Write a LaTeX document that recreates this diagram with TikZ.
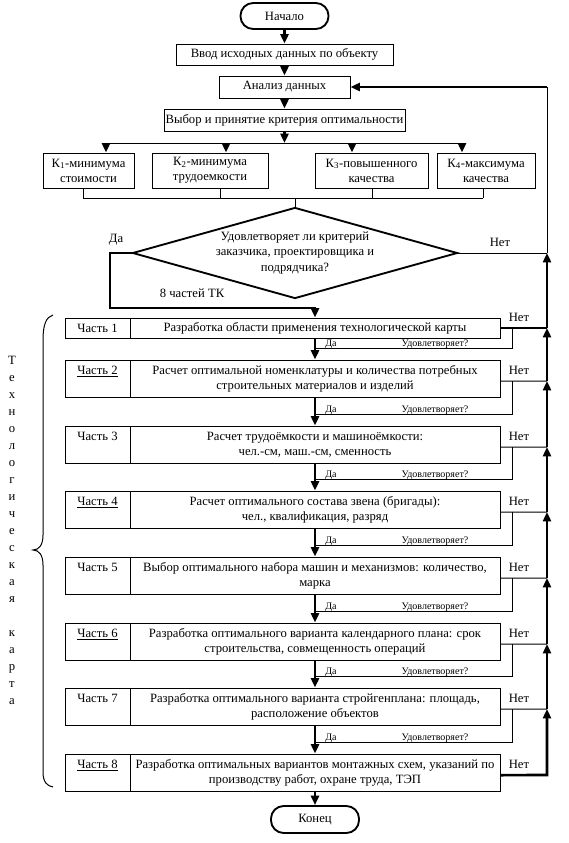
\documentclass[tikz,border=0pt]{standalone}
\usepackage{fontspec}
\setmainfont{Liberation Serif}
\usetikzlibrary{arrows.meta,shapes.geometric}
\newcommand\pxu{0.75pt}
\newcommand\fs{\fontsize{9.5}{11.3}\selectfont}
\newcommand\fsm{\fontsize{7.5}{9}\selectfont}
\tikzset{
  boxbase/.style={draw, line width=0.75pt, inner sep=0pt, align=center, font=\fs},
  term/.style={boxbase, rounded corners=9.5pt, line width=1.4pt},
  decbox/.style={boxbase, diamond, line width=1.4pt},
  txt/.style={inner sep=0pt, font=\fs, align=center},
  smalltxt/.style={inner sep=0pt, font=\fsm},
  thinline/.style={line width=0.75pt},
  thickline/.style={line width=2pt},
  arr/.style={thickline, -{Triangle[length=7pt,width=6pt]}},
}
\newcommand\rbox[7]{\node[#1, minimum width={(#5-#3)*\pxu}, minimum height={(#6-#4)*\pxu}] (#2) at ({(#3+#5)/2},{(#4+#6)/2}) {#7};}
\newcommand\partrow[5]{%
  \node[boxbase, minimum width={65*\pxu}, minimum height={(#3-#2)*\pxu}] (l#1) at (97.5,{(#2+#3)/2}) {};
  \node[boxbase, minimum width={370*\pxu}, minimum height={(#3-#2)*\pxu}] (p#1) at (315,{(#2+#3)/2}) {#5};
  \node[txt, anchor=north] (lab#1) at ([yshift=-4.5pt]l#1.north) {#4};
}
% #1 index, #2 y of Net line, #3 y of loop line
\newcommand\netrow[3]{%
  \coordinate (j#1) at (547,#2);
  \coordinate (m#1) at (512,#2);
  \coordinate (a#1) at (315,#3);
  \draw[thinline] ([yshift=-2pt]p#1.east) -- (j#1);
  \draw[thinline] (m#1) |- (a#1);
  \node[txt, anchor=base] (net#1) at (519,{#2-7}) {Нет};
  \node[smalltxt, anchor=base west] (da#1) at (325,{#3-2}) {Да};
  \node[smalltxt, anchor=base] (ud#1) at (435,{#3-2}) {Удовлетворяет?};
}
\begin{document}
\begin{tikzpicture}[x=0.75pt,y=-0.75pt]
\useasboundingbox (0,0) rectangle (568,843);

% top chain
\rbox{term}{start}{240.5}{3}{328.5}{29}{Начало}
\rbox{boxbase}{vvod}{176}{44}{393}{65}{Ввод исходных данных по объекту}
\rbox{boxbase}{anal}{219}{76}{350}{98}{Анализ данных}
\rbox{boxbase}{vyb}{164}{109}{405}{131}{Выбор и принятие критерия оптимальности}
\draw[arr] (start) -- (vvod);
\draw[arr] (vvod) -- (anal);
\draw[arr] (anal) -- (vyb);

% distribution to criteria
\coordinate (dm) at (284.5,143);
\coordinate (d1) at (106,143);
\coordinate (d2) at (226,143);
\coordinate (d3) at (352,143);
\coordinate (d4) at (462,143);
\draw[arr] (vyb) -- (dm);
\draw[thinline] (d1) -- (d4);
\rbox{boxbase}{k1}{43}{153}{134}{188}{К\textsubscript{1}-минимума\\стоимости}
\rbox{boxbase}{k2}{152}{153}{268}{188}{К\textsubscript{2}-минимума\\трудоемкости}
\rbox{boxbase}{k3}{315}{153}{428}{188}{К\textsubscript{3}-повышенного\\качества}
\rbox{boxbase}{k4}{437}{153}{535}{188}{К\textsubscript{4}-максимума\\качества}
\draw[arr] (d1) -- (d1 |- k1.north);
\draw[arr] (d2) -- (d2 |- k2.north);
\draw[arr] (d3) -- (d3 |- k3.north);
\draw[arr] (d4) -- (d4 |- k4.north);

% collector
\coordinate (c1) at (83,198);
\coordinate (c2) at (220,198);
\coordinate (c3) at (372,198);
\coordinate (c4) at (483,198);
\coordinate (cm) at (295,198);
\draw[thinline] (c1) -- (c4);
\draw[thinline] (c1 |- k1.south) -- (c1);
\draw[thinline] (c2 |- k2.south) -- (c2);
\draw[thinline] (c3 |- k3.south) -- (c3);
\draw[thinline] (c4 |- k4.south) -- (c4);

% decision
\node[decbox, minimum width={325*\pxu}, minimum height={91*\pxu}, shape aspect=3.57] (dec) at (295,253)
  {Удовлетворяет ли критерий\\заказчика, проектировщика и\\подрядчика?};
\draw[thinline] (cm) -- (dec.north);

% parts
\node[boxbase, minimum width={65*\pxu}, minimum height={20*\pxu}] (l1) at (97.5,328) {};
\node[boxbase, minimum width={370*\pxu}, minimum height={20*\pxu}] (p1) at (315,328)
  {Разработка области применения технологической карты};
\node[txt] (lab1) at (l1) {Часть 1};
\partrow{2}{360}{397}{\underline{Часть 2}}{Расчет оптимальной номенклатуры и количества потребных\\строительных материалов и изделий}
\partrow{3}{426}{463}{Часть 3}{Расчет трудоёмкости и машиноёмкости:\\чел.-см, маш.-см, сменность}
\partrow{4}{491}{528}{\underline{Часть 4}}{Расчет оптимального состава звена (бригады):\\чел., квалификация, разряд}
\partrow{5}{557}{594}{Часть 5}{Выбор оптимального набора машин и механизмов: количество,\\марка}
\partrow{6}{623}{660}{\underline{Часть 6}}{Разработка оптимального варианта календарного плана: срок\\строительства, совмещенность операций}
\partrow{7}{688}{725}{Часть 7}{Разработка оптимального варианта стройгенплана: площадь,\\расположение объектов}
\partrow{8}{754}{791}{\underline{Часть 8}}{Разработка оптимальных вариантов монтажных схем, указаний по\\производству работ, охране труда, ТЭП}
\rbox{term}{end}{271}{806}{359}{833}{Конец}

% Yes path from decision
\coordinate (ya) at (110,253);
\coordinate (yb) at (110,308);
\draw[arr] (dec.west) -- (ya) -- (yb) -- (yb -| p1.north) -- (p1.north);
\node[txt] (dalbl) at (116,240) {Да};
\node[txt] (tk) at (192,293) {8 частей ТК};

% No path from decision and feedback
\coordinate (j0) at (547,253);
\coordinate (jt) at (547,87);
\draw[thinline] (dec.east) -- (j0);
\node[txt] (net0) at (500,242) {Нет};
\draw[thinline] (j0) -- (jt);
\draw[arr] (jt) -- (anal.east);

% part 1 feedback
\coordinate (j1) at (547,328);
\coordinate (m1) at (512,328);
\coordinate (a1) at (315,348);
\draw[thickline] (p1.east) -- (j1);
\draw[thinline] (m1) |- (a1);
\node[txt, anchor=base] (net1) at (519,321) {Нет};
\node[smalltxt, anchor=base west] (da1) at (325,346) {Да};
\node[smalltxt, anchor=base] (ud1) at (435,346) {Удовлетворяет?};

\netrow{2}{381}{414}
\netrow{3}{447}{479}
\netrow{4}{512}{545}
\netrow{5}{578}{611}
\netrow{6}{644}{676}
\netrow{7}{709}{742}

% part 8 no-line (thick corner)
\coordinate (j8) at (547,775);
\node[txt, anchor=base] (net8) at (519,768) {Нет};
\draw[arr] ([yshift=-2pt]p8.east) -- (j8) -- (j7);

% feedback arrows upward
\draw[arr] (j7) -- (j6);
\draw[arr] (j6) -- (j5);
\draw[arr] (j5) -- (j4);
\draw[arr] (j4) -- (j3);
\draw[arr] (j3) -- (j2);
\draw[arr] (j2) -- (j1);
\draw[arr] (j1) -- (j0);

% main axis arrows
\draw[arr] (p1) -- (p2);
\draw[arr] (p2) -- (p3);
\draw[arr] (p3) -- (p4);
\draw[arr] (p4) -- (p5);
\draw[arr] (p5) -- (p6);
\draw[arr] (p6) -- (p7);
\draw[arr] (p7) -- (p8);
\draw[arr] (p8) -- (end);

% brace and vertical caption
\draw[thinline] (53,315) .. controls (46,317) and (43,325) .. (43,340) -- (43,535)
  .. controls (43,545) and (39,550) .. (33,550) .. controls (39,550) and (43,555) .. (43,565)
  -- (43,772) .. controls (43,782) and (47,786) .. (53,787);
\node[txt, font=\fontsize{9.5}{12.75}\selectfont, anchor=north] (vt) at (12,356)
  {Т\\е\\х\\н\\о\\л\\о\\г\\и\\ч\\е\\с\\к\\а\\я\\[12.75pt]к\\а\\р\\т\\а};
\end{tikzpicture}
\end{document}
